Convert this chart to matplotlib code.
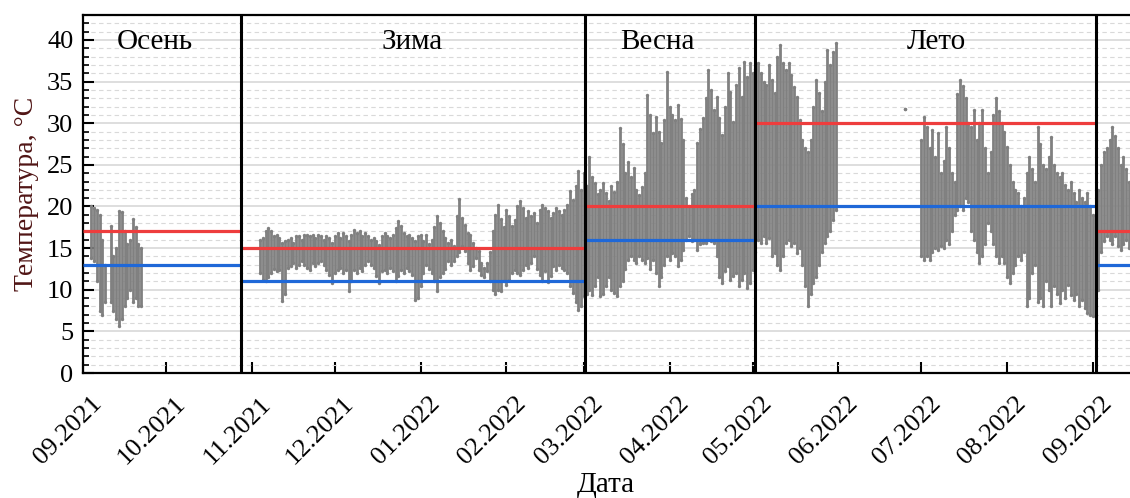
import numpy as np
import matplotlib
matplotlib.use("Agg")
import matplotlib.pyplot as plt
import matplotlib.dates as mdates
from matplotlib.ticker import MultipleLocator
from matplotlib.transforms import ScaledTranslation

plt.rcParams['font.family'] = ['Liberation Serif', 'DejaVu Serif']

BASE = np.datetime64('2021-09-01')

# ---- data: day offset from 01.09.2021, daily min / max temperature (deg C) ----
day = [3, 4, 5, 6, 7, 8, 10, 11, 12, 13, 14, 15, 16, 17, 18, 19, 20, 21,
       64, 65, 66, 67, 68, 69, 70, 71, 72, 73, 74, 75, 76, 77, 78, 79, 80, 81, 82, 83, 84, 85,
       86, 87, 88, 89, 90, 91, 92, 93, 94, 95, 96, 97, 98, 99, 100, 101, 102, 103, 104, 105,
       106, 107, 108, 109, 110, 111, 112, 113, 114, 115, 116, 117, 118, 119, 120, 121, 122, 123,
       124, 125, 126, 127, 128, 129, 130, 131, 132, 133, 134, 135, 136, 137, 138, 139, 140, 141,
       142, 143, 144, 145, 146, 147, 148, 149, 150, 151, 152, 153, 154, 155, 156, 157, 158, 159,
       160, 161, 162, 163, 164, 165, 166, 167, 168, 169, 170, 171, 172, 173, 174, 175, 176, 177,
       178, 179, 180,
       181, 182, 183, 184, 185, 186, 187, 188, 189, 190, 191, 192, 193, 194, 195, 196, 197, 198,
       199, 200, 201, 202, 203, 204, 205, 206, 207, 208, 209, 210, 211, 212, 213, 214, 215, 216,
       217, 218, 219, 220, 221, 222, 223, 224, 225, 226, 227, 228, 229, 230, 231, 232, 233, 234,
       235, 236, 237, 238, 239, 240, 241, 242,
       243, 244, 245, 246, 247, 248, 249, 250, 251, 252, 253, 254, 255, 256, 257, 258, 259, 260,
       261, 262, 263, 264, 265, 266, 267, 268, 269, 270, 271, 272, 297,
       303, 304, 305, 306, 307, 308, 309, 310, 311, 312, 313, 314, 315, 316, 317, 318, 319, 320,
       321, 322, 323, 324, 325, 326, 327, 328, 329, 330, 331, 332, 333, 334, 335, 336, 337, 338,
       339, 340, 341, 342, 343, 344, 345, 346, 347, 348, 349, 350, 351, 352, 353, 354, 355, 356,
       357, 358, 359, 360, 361, 362, 363, 364, 365, 366,
       367, 368, 369, 370, 371, 372, 373, 374, 375, 376, 377, 378]

t_min = [13.8, 13.5, 11.0, 7.5, 7.0, 8.5, 8.5, 7.5, 6.5, 5.6, 6.5, 8.0, 9.0, 10.0, 8.5, 9.0, 8.0, 8.0,
         12.0, 11.2, 11.1, 11.5, 12.0, 12.5, 12.2, 12.4, 8.6, 9.5, 12.6, 12.8, 13.2, 12.6, 13.0, 13.4, 13.0, 12.6, 12.4, 13.2, 12.8, 13.2,
         13.4, 13.0, 12.4, 11.8, 10.8, 12.0, 12.4, 12.6, 12.0, 12.4, 9.9, 11.0, 12.4, 12.0, 12.6, 12.2, 13.0, 13.4, 13.0, 12.6,
         11.6, 10.8, 12.2, 12.4, 12.0, 12.6, 12.2, 11.1, 11.6, 12.4, 12.0, 12.6, 12.2, 11.8, 8.8, 9.0, 10.5, 12.0,
         13.0, 12.5, 12.0, 11.0, 9.9, 11.5, 12.0, 12.5, 13.4, 13.0, 13.4, 14.0, 14.5, 15.2, 14.6, 13.2, 12.4, 12.8,
         13.8, 12.4, 11.8, 11.5, 12.2, 11.0, 10.0, 9.5, 10.0, 9.8, 11.0, 10.6, 11.2, 12.0, 12.4, 12.0, 11.8, 12.4,
         13.0, 12.6, 13.2, 14.0, 12.5, 11.8, 11.0, 12.2, 10.9, 11.6, 12.8, 12.4, 13.0, 12.6, 12.4, 12.0, 10.5, 9.6,
         8.5, 7.6, 8.0,
         9.2, 9.5, 10.0, 9.4, 10.5, 11.5, 9.2, 9.5, 10.5, 11.5, 10.0, 9.6, 9.2, 10.5, 11.0, 12.5, 13.6, 14.0,
         13.6, 13.2, 14.0, 13.6, 13.2, 13.8, 12.5, 13.6, 12.0, 10.4, 11.5, 13.0, 14.0, 13.6, 14.4, 14.0, 12.9, 13.6,
         14.8, 16.0, 16.5, 15.8, 16.0, 14.8, 15.5, 15.6, 15.6, 16.0, 15.8, 15.6, 14.0, 11.5, 10.8, 12.2, 12.8, 11.2,
         11.6, 12.0, 10.4, 11.2, 12.0, 10.2, 10.8, 12.4,
         14.5, 16.0, 15.6, 16.4, 15.6, 16.2, 14.0, 14.4, 13.0, 12.4, 14.0, 15.6, 16.0, 15.2, 15.6, 14.4, 15.0, 13.0,
         10.5, 8.0, 9.5, 10.8, 11.5, 13.0, 14.5, 15.6, 16.5, 17.0, 18.4, 19.6, 31.7,
         14.0, 13.6, 14.0, 13.6, 14.5, 15.0, 14.8, 15.2, 15.0, 16.0, 15.5, 17.0, 19.0, 19.6, 20.0, 19.6, 21.0, 20.5,
         17.0, 16.0, 14.5, 13.2, 14.0, 15.5, 18.0, 17.0, 15.5, 14.0, 13.2, 14.0, 13.2, 11.5, 10.8, 12.0, 13.0, 14.0,
         13.6, 14.5, 8.0, 9.0, 12.0, 13.0, 8.5, 9.0, 8.0, 11.0, 10.0, 8.0, 10.5, 9.5, 8.4, 10.0, 9.0, 10.6,
         9.4, 8.8, 9.5, 8.0, 8.8, 7.8, 7.2, 7.0, 6.8, 5.2,
         10.0, 14.5, 15.8, 16.4, 16.0, 15.5, 16.4, 15.2, 14.8, 15.5, 16.0, 15.0]

t_max = [20.0, 19.8, 19.6, 19.0, 16.0, 13.0, 17.6, 14.0, 15.0, 19.5, 19.3, 17.0, 15.5, 16.0, 18.5, 17.5, 15.5, 15.0,
         16.0, 16.2, 17.0, 17.4, 17.0, 16.4, 16.6, 16.2, 15.6, 15.8, 16.0, 16.2, 15.6, 16.4, 16.4, 16.0, 16.6, 16.6, 16.4, 16.6, 16.2, 16.6,
         16.4, 16.0, 16.4, 16.2, 15.6, 16.4, 16.8, 16.2, 16.8, 16.4, 15.8, 16.6, 17.2, 16.8, 17.0, 16.4, 16.8, 16.4, 16.0, 16.2,
         15.8, 15.4, 16.4, 16.8, 16.4, 16.2, 16.6, 17.4, 18.2, 17.6, 16.8, 16.4, 16.6, 16.2, 15.8, 16.4, 16.6, 15.8,
         16.6, 15.5, 16.0, 17.5, 18.8, 18.0, 17.0, 16.2, 15.6, 16.0, 15.2, 18.8, 20.9, 18.6, 17.8, 16.8, 16.6, 15.6,
         15.0, 14.6, 13.2, 12.6, 13.2, 14.5, 17.0, 19.0, 20.2, 18.5, 17.5, 19.6, 18.8, 17.6, 18.4, 20.0, 20.6, 19.8,
         18.6, 19.4, 18.8, 19.2, 18.0, 19.6, 20.2, 19.8, 19.4, 18.6, 19.2, 19.8, 19.4, 19.0, 19.6, 20.2, 21.9, 20.8,
         22.5, 24.3, 22.0,
         24.0, 22.5, 26.0, 23.5, 22.8, 21.5, 22.0, 22.8, 21.6, 20.6, 22.5, 21.8, 23.0, 29.4, 27.5, 24.0, 25.4, 23.6,
         24.6, 22.0, 21.4, 22.4, 24.0, 33.4, 31.0, 28.8, 30.8, 29.0, 27.6, 30.4, 36.2, 32.0, 31.0, 30.4, 32.2, 30.5,
         28.0, 21.0, 20.0, 21.5, 22.0, 27.6, 29.3, 30.6, 33.0, 36.4, 34.0, 31.6, 33.2, 30.6, 28.6, 32.0, 36.0, 33.8,
         30.2, 34.6, 36.6, 33.2, 37.4, 35.6, 37.2, 36.0,
         36.5, 37.2, 36.0, 35.0, 34.6, 37.0, 35.2, 33.6, 38.0, 39.4, 37.2, 36.4, 37.2, 35.8, 34.4, 33.2, 30.4, 28.0,
         27.0, 26.5, 28.0, 32.0, 35.2, 33.6, 31.5, 35.0, 38.8, 37.0, 38.5, 39.6, 31.7,
         28.0, 30.8, 29.6, 27.0, 29.2, 26.0, 28.8, 24.0, 25.5, 29.6, 27.0, 24.0, 23.0, 33.5, 35.2, 34.5, 33.0, 30.0,
         29.5, 31.6, 28.0, 30.0, 31.6, 27.0, 24.0, 26.5, 31.0, 33.0, 31.5, 30.0, 29.0, 27.2, 25.0, 23.0, 22.0, 21.6,
         20.0, 21.0, 24.0, 26.0, 24.5, 23.0, 29.6, 27.5, 25.0, 24.5, 26.0, 28.4, 25.0, 24.0, 23.5, 24.0, 22.6, 22.0,
         23.0, 21.6, 20.5, 22.0, 21.0, 20.5, 21.6, 20.0, 19.0, 17.5,
         22.0, 25.0, 26.5, 27.0, 28.0, 29.6, 28.5, 27.0, 25.0, 26.0, 24.5, 23.0]

# seasons
season_names = ['Осень', 'Зима', 'Весна', 'Лето']
season_label_day = [26, 119, 207.5, 308.5]
boundary_day = [57, 181.5, 243, 366]
# comfort band per season segment: start day, end day, upper, lower
band_start = [0, 57, 181.5, 243, 366]
band_end = [57, 181.5, 243, 366, 380]
band_upper = [17, 15, 20, 30, 17]
band_lower = [13, 11, 16, 20, 13]

month_ticks = ['2021-09-01', '2021-10-01', '2021-11-01', '2021-12-01', '2022-01-01', '2022-02-01',
               '2022-03-01', '2022-04-01', '2022-05-01', '2022-06-01', '2022-07-01', '2022-08-01',
               '2022-09-01']
month_labels = ['09.2021', '10.2021', '11.2021', '12.2021', '01.2022', '02.2022', '03.2022',
                '04.2022', '05.2022', '06.2022', '07.2022', '08.2022', '09.2022']


def d2n(d):
    d = np.asarray(d, dtype=float)
    return mdates.date2num(BASE) + d


fig = plt.figure(figsize=(11.30, 4.98), dpi=100)
ax = fig.add_axes([83 / 1130, 1 - 373 / 498, 1 - 83 / 1130, (373 - 15) / 498])

x = d2n(day)
gray = '#808080'
ax.vlines(x, t_min, t_max, colors=gray, linewidth=2.0, zorder=3)
ax.scatter(np.concatenate([x, x]), np.concatenate([t_min, t_max]), s=6, color=gray,
           linewidths=0, zorder=3)

ax.hlines(band_upper, d2n(band_start), d2n(band_end), colors='#ee3d3d', linewidth=2.3, zorder=4)
ax.hlines(band_lower, d2n(band_start), d2n(band_end), colors='#1f68d8', linewidth=2.3, zorder=4)

for b in boundary_day:
    ax.axvline(d2n(b), color='black', linewidth=2.2, zorder=5)

for name, dd in zip(season_names, season_label_day):
    ax.text(d2n(dd), 39.7, name, ha='center', va='center', fontsize=21, zorder=6)

ax.set_ylim(0, 43)
ax.set_xlim(d2n(0), d2n(378.4))
ax.yaxis.set_major_locator(MultipleLocator(5))
ax.yaxis.set_minor_locator(MultipleLocator(1))
ax.grid(which='major', axis='y', color='#d4d4d4', linewidth=1.1, zorder=0)
ax.grid(which='minor', axis='y', color='#d9d9d9', linewidth=0.8, linestyle=(0, (4, 3)), zorder=0)
ax.set_axisbelow(True)

ticks = mdates.date2num([np.datetime64(t) for t in month_ticks])
ax.set_xticks(ticks)
ax.set_xticklabels(month_labels, rotation=45, ha='right', va='top', rotation_mode='anchor')
ax.tick_params(axis='both', which='major', direction='in', length=8, width=1.5,
               labelsize=19, pad=14)
ax.tick_params(axis='y', which='major', pad=7)
ax.tick_params(axis='y', which='minor', direction='in', length=4, width=1.2)
ax.tick_params(axis='x', which='minor', bottom=False)
off = ScaledTranslation(8 / 100, 0, fig.dpi_scale_trans)
for lab in ax.get_xticklabels():
    lab.set_transform(lab.get_transform() + off)

for s in ['left', 'bottom', 'top']:
    ax.spines[s].set_linewidth(1.6)
ax.spines['right'].set_visible(False)

ax.set_xlabel('Дата', fontsize=21, labelpad=0, va='center')
ax.set_ylabel('Температура, °С', fontsize=20, color='#501515', labelpad=6)
ax.xaxis.set_label_coords((606 - 83) / (1130 - 83), -(485 - 373) / 358)

fig.savefig('out.png', dpi=100)
